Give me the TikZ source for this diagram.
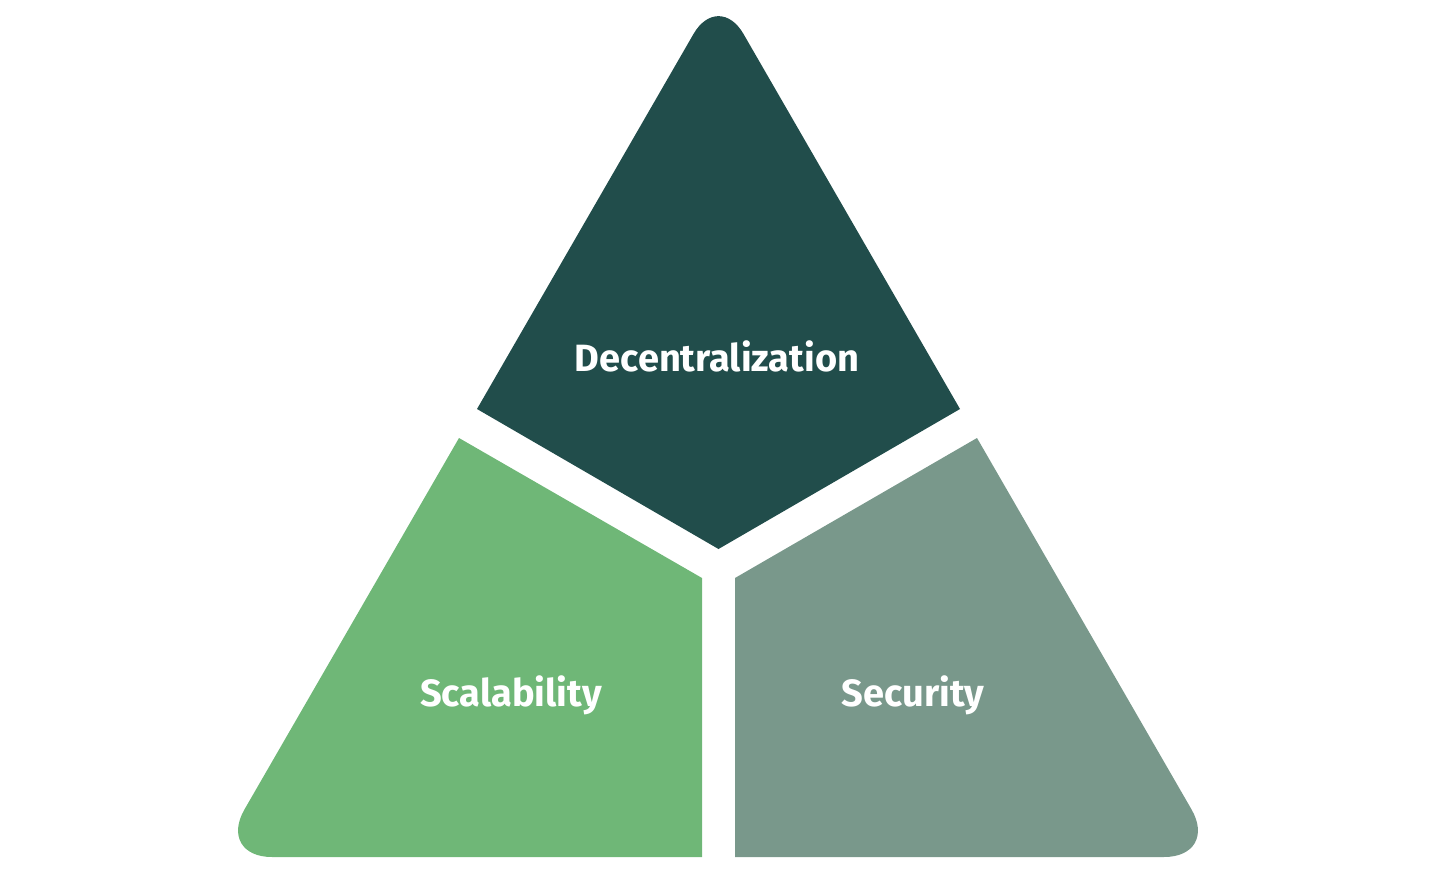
\documentclass[tikz,border=0pt]{standalone}
\usepackage{fontspec}
\setmainfont{Fira Sans}
\usetikzlibrary{calc}
\definecolor{topc}{HTML}{214D4B}
\definecolor{leftc}{HTML}{6FB777}
\definecolor{rightc}{HTML}{79988B}
\tikzset{
  label/.style={text=white, font=\fontsize{38}{42}\selectfont\bfseries, inner sep=0pt},
}
\begin{document}
\begin{tikzpicture}[x=1pt,y=-1pt]
\useasboundingbox (0,0) rectangle (1456,875);
% top piece
\coordinate (TA) at (718.5,-9.3);
\coordinate (TL) at (477,409);
\coordinate (TR) at (960,409);
\coordinate (TB) at (718.5,549);
\coordinate (TP1) at ($(TA)!50pt!(TL)$);
\coordinate (TP2) at ($(TA)!50pt!(TR)$);
\fill[topc] (TL) -- (TP1) .. controls ($(TP1)!0.55!(TA)$) and ($(TP2)!0.55!(TA)$) .. (TP2) -- (TR) -- (TB) -- cycle;
% left piece
\coordinate (LV) at (217,857);
\coordinate (LT) at (459,438);
\coordinate (LI) at (702,578);
\coordinate (LB) at (702,857);
\coordinate (LP1) at ($(LV)!55pt!(LT)$);
\coordinate (LP2) at ($(LV)!55pt!(LB)$);
\fill[leftc] (LT) -- (LI) -- (LB) -- (LP2) .. controls ($(LP2)!0.55!(LV)$) and ($(LP1)!0.55!(LV)$) .. (LP1) -- cycle;
% right piece
\coordinate (RV) at (1219,857);
\coordinate (RT) at (977,438);
\coordinate (RI) at (735,578);
\coordinate (RB) at (735,857);
\coordinate (RP1) at ($(RV)!55pt!(RT)$);
\coordinate (RP2) at ($(RV)!55pt!(RB)$);
\fill[rightc] (RT) -- (RI) -- (RB) -- (RP2) .. controls ($(RP2)!0.55!(RV)$) and ($(RP1)!0.55!(RV)$) .. (RP1) -- cycle;
% labels
\node[label] (dec) at (717,356) {Decentralization};
\node[label] (sca) at (511,695) {Scalability};
\node[label] (sec) at (913,695) {Security};
\end{tikzpicture}
\end{document}
